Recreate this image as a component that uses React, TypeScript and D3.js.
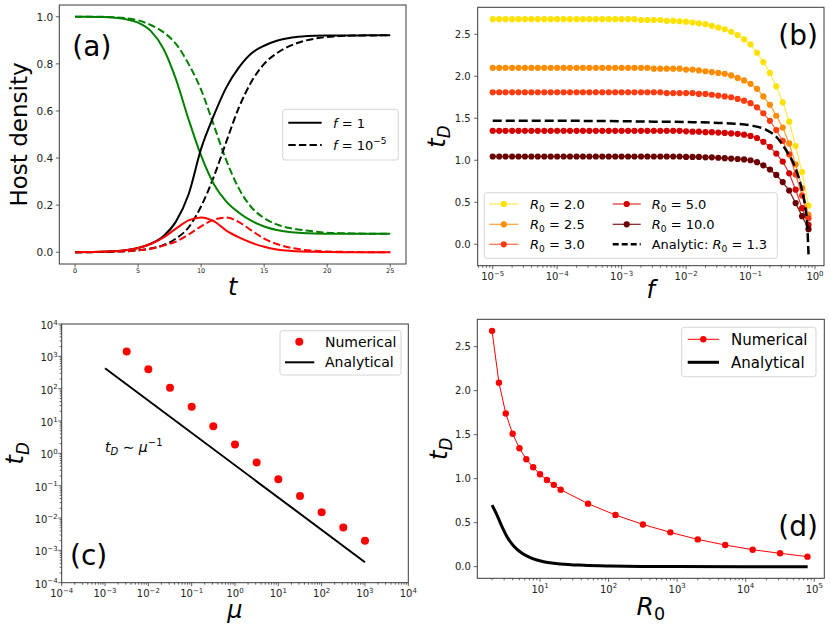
import React from "react";
import * as d3 from "d3";

const FONT = "DejaVu Sans, sans-serif";
const INK = "#222";
const SPINE = "#3a3a3a";

// ---------------- Panel (a) data ----------------
const tValues = [0, 1, 2, 3, 4, 5, 6, 7, 8, 9, 10, 11, 12, 13, 14, 15, 16, 17, 18, 19, 20, 21, 22, 23, 24, 25];
const greenF1 = [1, 1, 0.999, 0.997, 0.99, 0.975, 0.94, 0.865, 0.735, 0.565, 0.41, 0.29, 0.215, 0.168, 0.133, 0.109, 0.094, 0.086, 0.082, 0.08, 0.079, 0.079, 0.078, 0.078, 0.078, 0.078];
const greenF5 = [1, 1, 1, 0.998, 0.994, 0.985, 0.965, 0.935, 0.885, 0.8, 0.69, 0.54, 0.39, 0.27, 0.19, 0.145, 0.118, 0.103, 0.094, 0.088, 0.083, 0.081, 0.08, 0.079, 0.078, 0.078];
const blackF1 = [0, 0.001, 0.002, 0.004, 0.008, 0.018, 0.036, 0.068, 0.13, 0.245, 0.44, 0.58, 0.7, 0.785, 0.845, 0.877, 0.898, 0.91, 0.916, 0.919, 0.92, 0.92, 0.92, 0.921, 0.921, 0.921];
const blackF5 = [0, 0, 0.001, 0.002, 0.004, 0.008, 0.016, 0.03, 0.058, 0.105, 0.195, 0.32, 0.47, 0.615, 0.725, 0.8, 0.845, 0.875, 0.895, 0.907, 0.914, 0.918, 0.92, 0.92, 0.921, 0.921];
const redF1 = [0, 0.001, 0.002, 0.004, 0.008, 0.018, 0.035, 0.062, 0.1, 0.135, 0.148, 0.132, 0.092, 0.063, 0.04, 0.023, 0.012, 0.006, 0.003, 0.002, 0.001, 0, 0, 0, 0, 0];
const redF5 = [0, 0, 0.001, 0.002, 0.004, 0.008, 0.015, 0.028, 0.045, 0.075, 0.11, 0.138, 0.147, 0.128, 0.092, 0.058, 0.035, 0.02, 0.011, 0.006, 0.003, 0.002, 0.001, 0, 0, 0];
const aXTicks = [0, 5, 10, 15, 20, 25];
const aYTicks = [0, 0.2, 0.4, 0.6, 0.8, 1.0];

// ---------------- Panel (b) data ----------------
const fValues = [
  1e-5, 1.26e-5, 1.58e-5, 2.0e-5, 2.51e-5, 3.16e-5, 3.98e-5, 5.01e-5, 6.31e-5, 7.94e-5,
  1e-4, 1.26e-4, 1.58e-4, 2.0e-4, 2.51e-4, 3.16e-4, 3.98e-4, 5.01e-4, 6.31e-4, 7.94e-4,
  1e-3, 1.26e-3, 1.58e-3, 2.0e-3, 2.51e-3, 3.16e-3, 3.98e-3, 5.01e-3, 6.31e-3, 7.94e-3,
  1e-2, 1.26e-2, 1.58e-2, 2.0e-2, 2.51e-2, 3.16e-2, 3.98e-2, 5.01e-2, 6.31e-2, 7.94e-2,
  0.1, 0.126, 0.158, 0.2, 0.251, 0.316, 0.398, 0.501, 0.631, 0.794,
];
const tdR20 = [
  2.68, 2.68, 2.68, 2.68, 2.68, 2.68, 2.68, 2.68, 2.68, 2.68,
  2.68, 2.68, 2.68, 2.68, 2.68, 2.68, 2.68, 2.68, 2.68, 2.68,
  2.68, 2.68, 2.68, 2.67, 2.67, 2.67, 2.67, 2.66, 2.66, 2.655,
  2.65, 2.64, 2.63, 2.62, 2.6, 2.58, 2.56, 2.53, 2.49, 2.44,
  2.38, 2.28, 2.17, 2.04, 1.88, 1.69, 1.46, 1.17, 0.86, 0.46,
];
const tdR25 = [
  2.1, 2.1, 2.1, 2.1, 2.1, 2.1, 2.1, 2.1, 2.1, 2.1,
  2.1, 2.1, 2.1, 2.1, 2.1, 2.1, 2.1, 2.1, 2.1, 2.1,
  2.1, 2.1, 2.1, 2.1, 2.1, 2.09, 2.09, 2.09, 2.09, 2.09,
  2.08, 2.08, 2.07, 2.06, 2.05, 2.04, 2.03, 2.01, 1.98, 1.95,
  1.91, 1.85, 1.76, 1.66, 1.53, 1.39, 1.2, 0.95, 0.67, 0.35,
];
const tdR30 = [
  1.81, 1.81, 1.81, 1.81, 1.81, 1.81, 1.81, 1.81, 1.81, 1.81,
  1.81, 1.81, 1.81, 1.81, 1.81, 1.81, 1.81, 1.81, 1.81, 1.81,
  1.81, 1.81, 1.81, 1.81, 1.81, 1.81, 1.81, 1.8, 1.8, 1.8,
  1.8, 1.8, 1.79, 1.79, 1.78, 1.77, 1.76, 1.75, 1.73, 1.71,
  1.68, 1.63, 1.56, 1.47, 1.36, 1.23, 1.07, 0.83, 0.58, 0.31,
];
const tdR50 = [
  1.35, 1.35, 1.35, 1.35, 1.35, 1.35, 1.35, 1.35, 1.35, 1.35,
  1.35, 1.35, 1.35, 1.35, 1.35, 1.35, 1.35, 1.35, 1.35, 1.35,
  1.35, 1.35, 1.35, 1.35, 1.35, 1.35, 1.35, 1.35, 1.35, 1.35,
  1.345, 1.34, 1.34, 1.335, 1.335, 1.33, 1.325, 1.32, 1.315, 1.305,
  1.29, 1.265, 1.22, 1.16, 1.08, 0.985, 0.845, 0.65, 0.43, 0.23,
];
const tdR100 = [
  1.045, 1.045, 1.045, 1.045, 1.045, 1.045, 1.045, 1.045, 1.045, 1.045,
  1.045, 1.045, 1.045, 1.045, 1.045, 1.045, 1.045, 1.045, 1.045, 1.045,
  1.045, 1.045, 1.045, 1.045, 1.045, 1.045, 1.045, 1.045, 1.045, 1.045,
  1.04, 1.04, 1.04, 1.035, 1.035, 1.03, 1.025, 1.02, 1.015, 1.01,
  1.0, 0.977, 0.94, 0.89, 0.825, 0.74, 0.64, 0.49, 0.335, 0.18,
];
const bSeriesLabels = ["2.0", "2.5", "3.0", "5.0", "10.0"];
const fAnalytic = [1e-5, 1e-4, 1e-3, 0.00316, 0.01, 0.0316, 0.0562, 0.1, 0.178, 0.251, 0.355, 0.501, 0.631, 0.708, 0.759, 0.794];
const tdAnalytic = [1.47, 1.47, 1.465, 1.46, 1.455, 1.445, 1.435, 1.415, 1.36, 1.28, 1.12, 0.9, 0.64, 0.44, 0.22, -0.12];
const bYTicks = [0, 0.5, 1.0, 1.5, 2.0, 2.5];
const bXTickExps = [-5, -4, -3, -2, -1, 0];

// ---------------- Panel (c) data ----------------
const muValues = [0.00316, 0.01, 0.0316, 0.1, 0.316, 1, 3.16, 10, 31.6, 100, 316, 1000];
const tdMuNumerical = [1400, 400, 107, 27.5, 6.9, 1.88, 0.52, 0.158, 0.048, 0.015, 0.0051, 0.002];
const muLine = [1e-3, 1e3];
const tdMuLine = [430, 4.3e-4];
const cTickExps = [-4, -3, -2, -1, 0, 1, 2, 3, 4];

// ---------------- Panel (d) data ----------------
const r0Values = [2, 2.52, 3.17, 3.99, 5.02, 6.32, 7.96, 10.02, 12.62, 15.89, 20, 50.2, 126.2, 317, 796, 2000, 5024, 12619, 31698, 79621];
const tdR0Numerical = [2.68, 2.09, 1.74, 1.51, 1.345, 1.22, 1.13, 1.05, 0.985, 0.93, 0.875, 0.716, 0.587, 0.48, 0.39, 0.31, 0.246, 0.193, 0.152, 0.114];
const r0Analytic = [2, 2.36, 2.79, 3.3, 4.13, 5.47, 7.64, 11.3, 19.8, 43.4, 106, 300, 1000, 10000, 80000];
const tdR0Analytic = [0.7, 0.587, 0.455, 0.341, 0.235, 0.152, 0.095, 0.057, 0.031, 0.016, 0.008, 0.003, 0.001, 0, 0];
const dYTicks = [0, 0.5, 1.0, 1.5, 2.0, 2.5];
const dXTickExps = [1, 2, 3, 4, 5];

type Box = { l: number; r: number; t: number; b: number };

function minorLogTicks(lo: number, hi: number): number[] {
  const out: number[] = [];
  for (let e = Math.floor(Math.log10(lo)) - 1; e <= Math.ceil(Math.log10(hi)); e++) {
    for (let k = 2; k <= 9; k++) {
      const v = k * Math.pow(10, e);
      if (v >= lo && v <= hi) out.push(v);
    }
  }
  return out;
}

const Spine = ({ box }: { box: Box }) => (
  <rect x={box.l} y={box.t} width={box.r - box.l} height={box.b - box.t} fill="none" stroke={SPINE} strokeWidth={1} />
);

function XTickMarks({ box, pos, len }: { box: Box; pos: number[]; len: number }) {
  return (
    <g stroke={SPINE} strokeWidth={0.8}>
      {pos.map((p, i) => (
        <line key={i} x1={p} x2={p} y1={box.b} y2={box.b + len} />
      ))}
    </g>
  );
}
function YTickMarks({ box, pos, len }: { box: Box; pos: number[]; len: number }) {
  return (
    <g stroke={SPINE} strokeWidth={0.8}>
      {pos.map((p, i) => (
        <line key={i} y1={p} y2={p} x1={box.l} x2={box.l - len} />
      ))}
    </g>
  );
}

function Pow10({ x, y, exp, size, anchor = "middle" }: { x: number; y: number; exp: number; size: number; anchor?: string }) {
  const e = exp < 0 ? "\u2212" + Math.abs(exp) : String(exp);
  return (
    <text x={x} y={y} fontSize={size} textAnchor={anchor as any} fill={INK}>
      10
      <tspan dy={-size * 0.45} fontSize={size * 0.7}>
        {e}
      </tspan>
    </text>
  );
}

function TdLabel({ x, y, size = 24 }: { x: number; y: number; size?: number }) {
  return (
    <text transform={`translate(${x},${y}) rotate(-90)`} textAnchor="middle" fontSize={size} fill="#000">
      <tspan fontStyle="italic">t</tspan>
      <tspan fontStyle="italic" fontSize={size * 0.7} dy={size * 0.22}>
        D
      </tspan>
    </text>
  );
}

function LegendBox({ x, y, w, h }: { x: number; y: number; w: number; h: number }) {
  return <rect x={x} y={y} width={w} height={h} rx={2.5} fill="#fff" fillOpacity={0.85} stroke="#d5d5d5" strokeWidth={1} />;
}

function R0Text({ x, y, value, prefix = "", size = 13 }: { x: number; y: number; value: string; prefix?: string; size?: number }) {
  return (
    <text x={x} y={y} fontSize={size} fill="#000">
      {prefix}
      <tspan fontStyle="italic">R</tspan>
      <tspan fontSize={size * 0.7} dy={size * 0.22}>0</tspan>
      <tspan dy={-size * 0.22}>{" = " + value}</tspan>
    </text>
  );
}

// ---------------- Panel (a) ----------------
function PanelA() {
  const box: Box = { l: 59.3, r: 406, t: 5, b: 264 };
  const x = d3.scaleLinear().domain([-1.25, 26.25]).range([box.l, box.r]);
  const y = d3.scaleLinear().domain([-0.05, 1.05]).range([box.b, box.t]);
  const mk = (vals: number[]) =>
    d3
      .line<number>()
      .x((_, i) => x(tValues[i]))
      .y((d) => y(d))
      .curve(d3.curveMonotoneX)(vals) || "";
  const series = [
    { v: greenF5, c: "#008000", dash: true },
    { v: blackF5, c: "#000", dash: true },
    { v: redF5, c: "#ff0000", dash: true },
    { v: greenF1, c: "#008000", dash: false },
    { v: blackF1, c: "#000", dash: false },
    { v: redF1, c: "#ff0000", dash: false },
  ];
  return (
    <g>
      {series.map((s, i) => (
        <path key={i} d={mk(s.v)} fill="none" stroke={s.c} strokeWidth={2} strokeDasharray={s.dash ? "7.4,3.2" : undefined} />
      ))}
      <Spine box={box} />
      <XTickMarks box={box} pos={aXTicks.map((v) => x(v))} len={3.5} />
      <YTickMarks box={box} pos={aYTicks.map((v) => y(v))} len={3.5} />
      {aXTicks.map((v) => (
        <text key={v} x={x(v)} y={box.b + 8.6} fontSize={6.5} textAnchor="middle" fill={INK}>
          {d3.format("d")(v)}
        </text>
      ))}
      {aYTicks.map((v) => (
        <text key={v} x={box.l - 6} y={y(v) + 3.8} fontSize={10.5} textAnchor="end" fill={INK}>
          {d3.format(".1f")(v)}
        </text>
      ))}
      <text transform={`translate(26.7,${(box.t + box.b) / 2}) rotate(-90)`} textAnchor="middle" fontSize={23} fill="#000">
        Host density
      </text>
      <text x={(box.l + box.r) / 2} y={295} textAnchor="middle" fontSize={24} fontStyle="italic" fill="#000">
        t
      </text>
      <text x={72.3} y={56.4} fontSize={28} fill="#000">
        (a)
      </text>
      <LegendBox x={282.7} y={109.3} w={115.6} h={50.7} />
      <line x1={288.3} x2={321.7} y1={122.7} y2={122.7} stroke="#000" strokeWidth={2} />
      <line x1={288.3} x2={321.7} y1={145} y2={145} stroke="#000" strokeWidth={2} strokeDasharray="7.4,3.2" />
      <text x={333} y={127.5} fontSize={13} fill="#000">
        <tspan fontStyle="italic">f</tspan>
        {" = 1"}
      </text>
      <text x={333} y={149.8} fontSize={13} fill="#000">
        <tspan fontStyle="italic">f</tspan>
        {" = 10"}
        <tspan dy={-5.5} fontSize={9}>
          {"\u22125"}
        </tspan>
      </text>
    </g>
  );
}

// ---------------- Panel (b) ----------------
function PanelB() {
  const box: Box = { l: 477.7, r: 824, t: 7.3, b: 265.7 };
  const x = d3.scaleLog().domain([Math.pow(10, -5.233), Math.pow(10, 0.14)]).range([box.l, box.r]);
  const y = d3.scaleLinear().domain([-0.255, 2.821]).range([box.b, box.t]);
  const colors = ["#ffe100", "#ff8c00", "#ff3b10", "#d40000", "#6a0000"];
  const lineColors = ["#ffe84d", "#ffa033", "#ff6a4a", "#d83030", "#7a1a1a"];
  const data = [tdR20, tdR25, tdR30, tdR50, tdR100];
  const mk = (xs: number[], vals: number[], curve: any) =>
    d3
      .line<number>()
      .x((_, i) => x(xs[i]))
      .y((d) => y(d))
      .curve(curve)(vals) || "";
  const rows = [204, 224.3, 244.3];
  return (
    <g>
      {data.map((vals, si) => (
        <g key={si}>
          <path d={mk(fValues, vals, d3.curveLinear)} fill="none" stroke={lineColors[si]} strokeWidth={1.2} />
          {vals.map((v, i) => (
            <circle key={i} cx={x(fValues[i])} cy={y(v)} r={3.1} fill={colors[si]} />
          ))}
        </g>
      ))}
      <path d={mk(fAnalytic, tdAnalytic, d3.curveMonotoneX)} fill="none" stroke="#000" strokeWidth={2.5} strokeDasharray="9,4" />
      <Spine box={box} />
      <XTickMarks box={box} pos={bXTickExps.map((e) => x(Math.pow(10, e)))} len={3.5} />
      <XTickMarks box={box} pos={minorLogTicks(x.domain()[0], x.domain()[1]).map((v) => x(v))} len={2} />
      <YTickMarks box={box} pos={bYTicks.map((v) => y(v))} len={3.5} />
      {bXTickExps.map((e) => (
        <Pow10 key={e} x={x(Math.pow(10, e))} y={280} exp={e} size={10} />
      ))}
      {bYTicks.map((v) => (
        <text key={v} x={box.l - 7} y={y(v) + 3.6} fontSize={10} textAnchor="end" fill={INK}>
          {d3.format(".1f")(v)}
        </text>
      ))}
      <TdLabel x={445} y={(box.t + box.b) / 2} />
      <text x={(box.l + box.r) / 2} y={298} textAnchor="middle" fontSize={24} fontStyle="italic" fill="#000">
        f
      </text>
      <text x={778.3} y={44.7} fontSize={28} fill="#000">
        (b)
      </text>
      <LegendBox x={484.3} y={192.7} w={293} h={65.6} />
      {[0, 1, 2].map((k) => (
        <g key={"c1" + k}>
          <line x1={489.3} x2={518.3} y1={rows[k]} y2={rows[k]} stroke={lineColors[k]} strokeWidth={1.2} />
          <circle cx={503.8} cy={rows[k]} r={3.1} fill={colors[k]} />
          <R0Text x={530} y={rows[k] + 4.8} value={bSeriesLabels[k]} />
        </g>
      ))}
      {[3, 4].map((k, j) => (
        <g key={"c2" + k}>
          <line x1={612.7} x2={640.7} y1={rows[j]} y2={rows[j]} stroke={lineColors[k]} strokeWidth={1.2} />
          <circle cx={626.7} cy={rows[j]} r={3.1} fill={colors[k]} />
          <R0Text x={651.7} y={rows[j] + 4.8} value={bSeriesLabels[k]} />
        </g>
      ))}
      <line x1={612.7} x2={640.7} y1={rows[2]} y2={rows[2]} stroke="#000" strokeWidth={2.5} strokeDasharray="6,3" />
      <R0Text x={651.7} y={rows[2] + 4.8} value="1.3" prefix="Analytic: " />
    </g>
  );
}

// ---------------- Panel (c) ----------------
function PanelC() {
  const box: Box = { l: 61.7, r: 408.3, t: 324, b: 582.7 };
  const x = d3.scaleLog().domain([1e-4, 1e4]).range([box.l, box.r]);
  const y = d3.scaleLog().domain([1e-4, 1e4]).range([box.b, box.t]);
  const linePath =
    d3
      .line<number>()
      .x((_, i) => x(muLine[i]))
      .y((d) => y(d))(tdMuLine) || "";
  const minors = minorLogTicks(1e-4, 1e4);
  return (
    <g>
      <path d={linePath} fill="none" stroke="#000" strokeWidth={2} />
      {tdMuNumerical.map((v, i) => (
        <circle key={i} cx={x(muValues[i])} cy={y(v)} r={4} fill="#ff0000" />
      ))}
      <Spine box={box} />
      <XTickMarks box={box} pos={cTickExps.map((e) => x(Math.pow(10, e)))} len={3.5} />
      <XTickMarks box={box} pos={minors.map((v) => x(v))} len={2} />
      <YTickMarks box={box} pos={cTickExps.map((e) => y(Math.pow(10, e)))} len={3.5} />
      <YTickMarks box={box} pos={minors.map((v) => y(v))} len={2} />
      {cTickExps.map((e) => (
        <Pow10 key={"x" + e} x={x(Math.pow(10, e))} y={597} exp={e} size={10} />
      ))}
      {cTickExps.map((e) => (
        <Pow10 key={"y" + e} x={box.l - 4} y={y(Math.pow(10, e)) + 5} exp={e} size={10} anchor="end" />
      ))}
      <TdLabel x={23.3} y={(box.t + box.b) / 2} />
      <text x={(box.l + box.r) / 2} y={618} textAnchor="middle" fontSize={24} fontStyle="italic" fill="#000">
        μ
      </text>
      <text x={105} y={452} fontSize={14} fill="#000">
        <tspan fontStyle="italic">t</tspan>
        <tspan fontStyle="italic" fontSize={10} dy={3}>
          D
        </tspan>
        <tspan dy={-3}>{" \u223C "}</tspan>
        <tspan fontStyle="italic">μ</tspan>
        <tspan fontSize={10} dy={-6}>
          {"\u22121"}
        </tspan>
      </text>
      <text x={70} y={564.7} fontSize={28} fill="#000">
        (c)
      </text>
      <LegendBox x={280} y={330.7} w={121} h={44.3} />
      <circle cx={299.3} cy={341.7} r={4} fill="#ff0000" />
      <text x={325} y={346.7} fontSize={14} fill="#000">
        Numerical
      </text>
      <line x1={285} x2={314.3} y1={362.3} y2={362.3} stroke="#000" strokeWidth={2} />
      <text x={325} y={367.3} fontSize={14} fill="#000">
        Analytical
      </text>
    </g>
  );
}

// ---------------- Panel (d) ----------------
function PanelD() {
  const box: Box = { l: 477.3, r: 824.3, t: 319.3, b: 578.3 };
  const x = d3.scaleLog().domain([Math.pow(10, 0.0857), Math.pow(10, 5.146)]).range([box.l, box.r]);
  const y = d3.scaleLinear().domain([-0.132, 2.811]).range([box.b, box.t]);
  const numPath =
    d3
      .line<number>()
      .x((_, i) => x(r0Values[i]))
      .y((d) => y(d))(tdR0Numerical) || "";
  const anaPath =
    d3
      .line<number>()
      .x((_, i) => x(r0Analytic[i]))
      .y((d) => y(d))
      .curve(d3.curveMonotoneX)(tdR0Analytic) || "";
  return (
    <g>
      <path d={anaPath} fill="none" stroke="#000" strokeWidth={3} />
      <path d={numPath} fill="none" stroke="#ff0000" strokeWidth={1} />
      {tdR0Numerical.map((v, i) => (
        <circle key={i} cx={x(r0Values[i])} cy={y(v)} r={3.2} fill="#ff0000" />
      ))}
      <Spine box={box} />
      <XTickMarks box={box} pos={dXTickExps.map((e) => x(Math.pow(10, e)))} len={3.5} />
      <XTickMarks box={box} pos={minorLogTicks(x.domain()[0], x.domain()[1]).map((v) => x(v))} len={2} />
      <YTickMarks box={box} pos={dYTicks.map((v) => y(v))} len={3.5} />
      {dXTickExps.map((e) => (
        <Pow10 key={e} x={x(Math.pow(10, e))} y={592.5} exp={e} size={10} />
      ))}
      {dYTicks.map((v) => (
        <text key={v} x={box.l - 6.5} y={y(v) + 3.6} fontSize={10} textAnchor="end" fill={INK}>
          {d3.format(".1f")(v)}
        </text>
      ))}
      <TdLabel x={447} y={(box.t + box.b) / 2} />
      <text x={(box.l + box.r) / 2} y={615} textAnchor="middle" fontSize={25} fill="#000">
        <tspan fontStyle="italic">R</tspan>
        <tspan fontSize={17.5} dy={5}>
          0
        </tspan>
      </text>
      <text x={778.3} y={536.4} fontSize={28} fill="#000">
        (d)
      </text>
      <LegendBox x={681.7} y={327.3} w={134.3} h={49.4} />
      <line x1={687.7} x2={719} y1={339.3} y2={339.3} stroke="#ff0000" strokeWidth={1} />
      <circle cx={703.3} cy={339.3} r={3.2} fill="#ff0000" />
      <text x={731} y={344.6} fontSize={15} fill="#000">
        Numerical
      </text>
      <line x1={687.7} x2={719} y1={362.3} y2={362.3} stroke="#000" strokeWidth={3} />
      <text x={731} y={367.6} fontSize={15} fill="#000">
        Analytical
      </text>
    </g>
  );
}

export default function App() {
  return (
    <svg
      width={830}
      height={630}
      viewBox="0 0 830 630"
      style={{ position: "absolute", left: 0, top: 0, display: "block", background: "#fff" }}
      fontFamily={FONT}
    >
      <rect width={830} height={630} fill="#fff" />
      <PanelA />
      <PanelB />
      <PanelC />
      <PanelD />
    </svg>
  );
}
